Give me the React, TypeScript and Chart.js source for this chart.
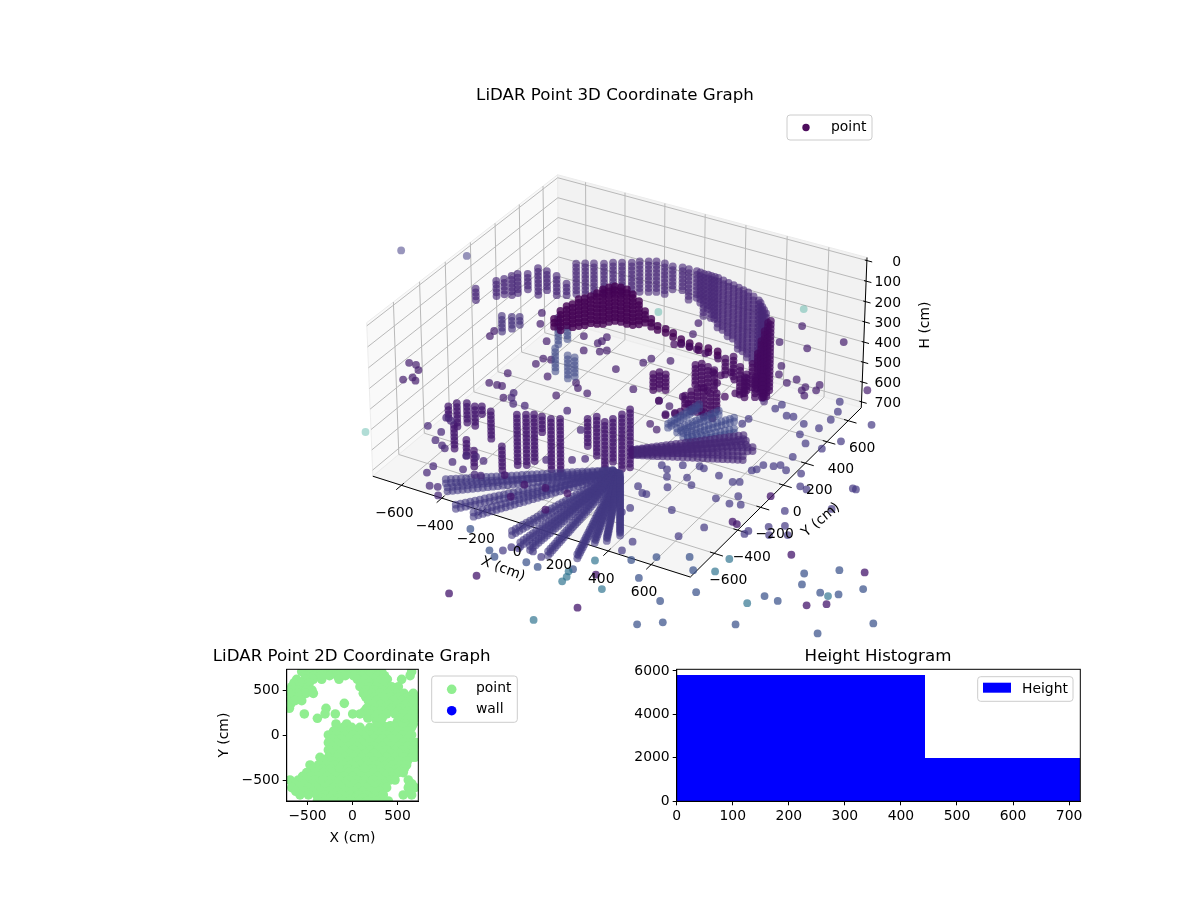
import { useEffect, useRef } from 'react';
import { Chart, registerables } from 'chart.js';

Chart.register(...registerables);

const FONT = '"DejaVu Sans", sans-serif';

// 3D axes
const xLim = [-743, 781];
const yLim = [-800, 725];
const hLim = [-15, 730];
const xTicks3d = [-600, -400, -200, 0, 200, 400, 600];
const yTicks3d = [-600, -400, -200, 0, 200, 400, 600];
const hTicks3d = [0, 100, 200, 300, 400, 500, 600, 700];

// height steps of the laser rings (cm)
const wallHeights = [200, 219, 238, 257, 276, 295, 314, 333, 352, 371, 390, 409, 428, 447, 466, 485, 504, 523, 542, 561, 580, 599, 618, 637];
const frontHeights = [400, 419, 438, 457, 476, 495, 514, 533, 552, 571, 590, 609, 628, 647, 666, 685];

// curved wall at the back
const wallX = [-450, -418, -387, -351, -323, -291, -256, -233, -201, -173, -135, -95, -56, -26, 10, 47, 81, 113, 169, 225, 277, 345, 420, 28, 64, 97, 141, 197, 251, 311, 360, 382, 400];
const wallY = [412, 431, 449, 469, 495, 513, 533, 558, 576, 592, 594, 589, 602, 601, 603, 596, 597, 597, 581, 566, 550, 513, 434, 602, 600, 597, 589, 574, 558, 532, 500, 474, 455];
const wallN = [9, 9, 9, 9, 9, 9, 9, 9, 9, 9, 9, 7, 7, 9, 8, 12, 12, 14, 15, 17, 18, 18, 24, 9, 10, 12, 14, 15, 17, 18, 22, 22, 24];
const wallLeftX = [-657, -637, -624, -612, -576, -565, -521, -465, -397, -695];
const wallLeftY = [124, 153, 190, 217, 237, 300, 297, 281, 246, 27];
const wallLeftN = [5, 5, 6, 6, 5, 8, 6, 6, 4, 4];

// columns in the foreground
const frontX = [-200, -169, -142, -107, -68, -37, 56, 79, 126, 142, 156, 164];
const frontY = [-468, -450, -434, -432, -429, -411, -357, -326, -344, -308, -262, -212];
const frontN = [14, 14, 13, 5, 14, 15, 8, 11, 13, 12, 15, 16];
const clusterX = [-466, -450, -416, -376, -352, -301, -371, -270, -203, -126];
const clusterY = [-549, -512, -492, -497, -483, -499, -658, -728, -780, -700];
const clusterN = [4, 7, 6, 6, 3, 8, 7, 5, 5, 7];

// bluish columns under the dense patch
const paleX = [-454, -380, -336, -263, -231];
const paleY = [271, 221, 51, 27, 28];
const paleN = [8, 4, 7, 7, 6];

// dense dark patch and the trail leaving it
const denseX = [-292, -303, -302, -290, -289, -272, -259, -250, -245, -232, -215, -190, -161, -120, -70, -9, 44, 94, 133, 175, 226, 271, 314, 354, 398];
const denseY = [-28, 40, 87, 113, 160, 179, 205, 239, 279, 305, 324, 329, 327, 304, 267, 209, 166, 129, 125, 111, 85, 73, 70, 75, 71];
const denseN = [3, 6, 6, 7, 8, 8, 8, 9, 10, 10, 10, 10, 10, 9, 7, 4, 3, 2, 2, 2, 2, 2, 2, 2, 2];

// dark clumps in the middle and on the right
const clumpX = [266, 279, 308, 373, 390, 423, 456, 452, 457, 466, 487, 528, 549, 451, 471, 581, 562, 542, 508, 482, 463, 465, 532, 586, 621, 645];
const clumpY = [-209, -183, -185, -64, -44, -53, -62, -289, -249, -216, -203, -225, -213, 37, 67, -28, 55, 137, 229, 306, 370, 390, 9, -53, -32, -18];
const clumpN = [5, 5, 5, 6, 7, 7, 6, 4, 6, 7, 8, 6, 5, 5, 6, 5, 7, 10, 14, 18, 20, 19, 8, 6, 6, 6];
const chainX = [222, 246, 282, 319, 363, 426, 460, 497, 520, 558, 512, 588, 611, 636, 448, 494, 495, 565, 624, 458, 481, 383];
const chainY = [36, 50, 51, 45, 34, 23, -78, -85, -44, -87, -142, -219, -177, -163, -300, -339, -403, -362, -384, -453, -420, -372];
const shortX = [-485, -446, -419];
const shortY = [-112, -99, -83];
const shortN = [5, 4, 3];

// floor fans, polar readings around the two scan centres
const fanRanges = [30, 50, 70, 90, 110, 130, 150, 170, 190, 210, 230, 250, 270, 290, 310, 330, 350, 370, 390, 410, 430, 450, 470, 490, 510, 530, 550, 570, 590, 610, 630, 650, 670, 690];
const fanHeights = [700, 680];
const frontFanCentre = [142, -252];
const frontFanAngles = [-144, -139, -128, -121, -103, -96, -92, -85, -75, -71, -66, -60];
const frontFanN = [34, 34, 34, 32, 30, 32, 32, 32, 31, 25, 24, 22];
const sideFanCentre = [88, -119];
const streakAngles = [33, 25, 39, 44];
const streakN = [25, 23, 24, 24];
const bundleAngles = [51, 60, 69, 80];
const bundleN = [23, 25, 24, 23];

// single returns, floor level
const farX = [809, 721, 723, 799, 1039, 1044, 1102, 1279, 1478, 1329, 575, 1214, 1343, 1129, 1102, 1207, 671, 727, 562, 489, -14, 26, 151, 205, 329, -157];
const farY = [-836, -955, -1132, -1073, -950, -731, -735, -582, -689, -850, -860, -606, -504, -591, -521, -434, -638, -711, -702, -768, -981, -1009, -981, -987, -933, -890];
const cyanX = [1010, 1250, 376, 492, 809, 803, 336, 335, 322, 371];
const cyanY = [-805, -612, -1299, -995, -575, -677, -1025, -990, -954, -840];
const darkX = [1209, 1270, 10, 476, 1297, 1000, 423, 36, 717, 695, 736, -143, -59, 36, 23, -144, -248];
const darkY = [-707, -663, -1307, -1148, -400, -431, -922, -1154, -345, -339, -102, -512, -491, -482, -627, -613, -490];
const midX = [564, 430, 776, 779, 862, 833, 924, 884, 619, 31, 47, 75, 134, 181, 425, 834, 985, 622, 664, 558, 626, 450, 289, 307, 289, 302, 250, 354, 428, 386, 488, 254, 287, 314, 326, 388, 410, 557, 581, 803, 835, 989, 1003, 762, 675, 699, 662, 642, 603, 595, 582, 788, 747, 672, 620, 665, 676, 596, 534, 506, 643, 672, 837, 440, 449, 384, 380];
const midY = [-533, -655, -392, -366, -352, -301, -316, -263, -429, -956, -920, -913, -904, -921, -728, -169, -65, -230, -215, -223, -165, -383, -333, -332, -493, -451, -298, -247, -186, -146, -70, -115, -132, -180, -73, -47, -52, -84, -70, 20, 12, 110, 109, 106, 201, 98, 121, 100, 87, 46, 29, 402, 314, 317, 368, 448, 531, 448, 476, 470, 676, 602, 578, 496, 537, 371, 324];
const leftX = [-627, -583, -561, -479, -457, -419, -376, -528, -524, -413, -352, -327, -462, -430, -395, -713, -641, -683, -654, -34, -75, -164, -162, -286, -456, -549, -536, -505];
const leftY = [-404, -424, -438, -510, -443, -430, -442, -575, -628, -536, -547, -541, -705, -696, -748, -326, -339, -235, -246, -226, -259, -311, -44, 58, 5, 70, 32, -5];

// single returns, upper level
const upperX = [592, 793, 691, 574, 223, 247, 667, 689, 746, 767, 822, 849, 823, 870, 863, 1041, 273, 200, 188, -604, -572, -542, -554, -531, -508, -228, -252, -217, -196, -145, -171, -167, -136, -81, 22, 120, 255, -119, -3, 17, -62, -43, -37, -36, 39, 66, 117, -359, -319, -226, -441, -448, 439, 481, 384, 454, 485, 438];
const upperY = [416, 385, 269, 258, 231, 143, 97, 35, -7, 34, -29, -59, 0, -1, 42, 98, -85, -108, -151, -609, -609, -638, -729, -697, -712, -485, -583, -582, -579, -652, -368, -319, -311, -429, -536, -247, -346, -87, -161, -140, -185, -108, -86, -49, -415, -446, -462, -11, -89, -195, -273, -230, -538, -562, -372, -446, -428, -387];
const faintX = [-1133, -873];
const faintY = [148, 243];
const tealX = [-905, 41, 534];
const tealY = [-492, 229, 541];
const tealH = [700, 200, 200];

// 2D chart
const limit2d = 731;
const ticks2d = [-500, 0, 500];
const greenRowY = [705, 660, 620, 580, 538, 500, 464, 425, 383, 353, 340, 298, 265, 235, 190, 187, 150, 124, 105, 87, 45, 2, -40, -83, -124, -165, -205, -246, -288, -331, -373, -416, -457, -498, -540, -583, -623, -664, -700, -731];
const greenRowX = [
  [-564, -472, -390, -302, -213, -124, -35, 54, 142, 231, 324, 657],
  [-520, -430, -345, -255, -170, -80, 10, 100, 185, 278, 355, 640],
  [-620, -527, -435, -342, -150, 54, 139, 231, 324, 387, 546],
  [-650, -560, -480, 100, 185, 278, 355],
  [-675, -583, -490, 83, 176, 268, 361, 435, 509],
  [-690, -610, -520, -450, 146, 240, 333, 425],
  [-701, -612, -516, -435, 120, 213, 305, 398, 490, 572, 675],
  [-670, -600, 146, 240, 333, 425, 520, 620, 700],
  [-723, -638, -564, 176, 268, 361, 453, 546, 638, 712],
  [-91],
  [-690, 220, 315, 407, 500, 590, 680],
  [-701, -294, 157, 250, 342, 435, 527, 620, 712],
  [130, 185, 240, 330, 420, 510, 610, 690],
  [-535, -305, -191, 2, 83, 194, 287, 380, 472, 564, 657, 712],
  [170, 250, 330, 527, 620, 700],
  [-390],
  [270, 500],
  [-183, -65, 490, 583, 675],
  [280, 340, 420, 500, 530, 620],
  [-102, -9, 83, 194, 287, 379, 472, 564, 657],
  [-210, -130, -55, 38, 148, 240, 333, 425, 518, 610],
  [-268, -176, -83, 9, 102, 194, 287, 379, 472, 564, 657],
  [-222, -130, -37, 55, 148, 240, 333, 425, 518, 610],
  [-268, -176, -83, 9, 102, 194, 287, 379, 472, 564, 657, 712],
  [-222, -130, -37, 55, 148, 240, 333, 425, 518, 610, 690],
  [-268, -176, -83, 9, 102, 194, 287, 379, 472, 564, 657, 712],
  [-222, -130, -37, 55, 148, 240, 333, 425, 518, 610, 670],
  [-361, -268, -176, -83, 9, 102, 194, 287, 379, 472, 564, 657, 694],
  [-315, -222, -130, -37, 55, 148, 240, 333, 425, 518, 610],
  [-472, -379, -287, -194, -102, -9, 83, 176, 268, 361, 453, 546, 601],
  [-440, -333, -240, -148, -55, 37, 130, 222, 315, 407, 500, 575],
  [-509, -416, -324, -231, -139, -46, 46, 139, 231, 324, 416, 509, 564],
  [-555, -462, -370, -278, -185, -93, 0, 93, 185, 278, 370, 444],
  [-694, -601, -509, -416, -324, -231, -139, -46, 46, 139, 231, 324, 416, 472, 620],
  [-640, -540, -444, -352, -259, -167, -74, 19, 111, 204, 296, 360, 660],
  [-675, -583, -490, -398, -305, -213, -120, -28, 65, 157, 250, 342, 379, 620, 694],
  [-630, -536, -444, -352, -259, -167, -74, 19, 111, 204, 296, 640],
  [-583, -490, -398, -305, -213, -120, -28, 65, 157, 250, 342, 564, 657],
  [-340, -250, -160, -66, 25, 118, 215, 330],
  [-390, -298, -205, -113, -20, 72, 165, 268, 398],
];

// histogram
const histEdges = [0, 443, 720];
const histCounts = [5815, 1995];
const histXTicks = [0, 100, 200, 300, 400, 500, 600, 700];
const histYTicks = [0, 2000, 4000, 6000];

// mplot3d style view: elev 30, azim -60, flattened height box
const DIST = 10;
const H_BOX = 0.48;
const UX = 0.866;
const UY = 0.5;
const VX = -0.25;
const VY = 0.433;
const VZ = 0.866;
const NX = 0.433;
const NY = -0.75;
const NZ = 0.5;

type Pt = { x: number; y: number };

function project(x: number, y: number, h: number): Pt {
  const qx = (x - xLim[0]) / (xLim[1] - xLim[0]) - 0.5;
  const qy = (y - yLim[0]) / (yLim[1] - yLim[0]) - 0.5;
  const qz = H_BOX * (0.5 - (h - hLim[0]) / (hLim[1] - hLim[0]));
  const w = DIST - (NX * qx + NY * qy + NZ * qz);
  return { x: (UX * qx + UY * qy) / w, y: (VX * qx + VY * qy + VZ * qz) / w };
}

// readings were taken against a +-720 box, this brings them on the tick scale
const readX = (x: number) => x * 1.058 + 19;
const readY = (y: number) => y * 1.059 - 37;
const reading = (x: number, y: number, h: number) => project(readX(x), readY(y), h);

const stacks = (xs: number[], ys: number[], ns: number[], hs: number[]) =>
  xs.flatMap((x, i) => hs.slice(0, ns[i]).map((h) => reading(x, ys[i], h)));

const singles = (xs: number[], ys: number[], h: number | number[]) =>
  xs.map((x, i) => reading(x, ys[i], Array.isArray(h) ? h[i] : h));

const fan = (centre: number[], angles: number[], ns: number[], first = 0) =>
  angles.flatMap((deg, i) =>
    fanRanges.slice(first, ns[i]).flatMap((r) =>
      fanHeights.map((h) => {
        const t = (deg * Math.PI) / 180;
        return reading(centre[0] + r * Math.cos(t), centre[1] + r * Math.sin(t), h);
      }),
    ),
  );

const gap = { x: NaN, y: NaN };
const segments = (list: [Pt, Pt][]) => list.flatMap(([a, b]) => [a, b, gap]);

const [x0, x1] = xLim;
const [y0, y1] = yLim;
const [hTop, hBottom] = hLim;

const lineSet = (data: Pt[], color: string, width: number) => ({
  data,
  showLine: true,
  borderColor: color,
  borderWidth: width,
  pointRadius: 0,
  spanGaps: false,
  clip: false as const,
});

const paneSet = (corners: Pt[], fill: string) => ({
  data: [...corners, corners[0]],
  showLine: true,
  fill: 'shape',
  backgroundColor: fill,
  borderColor: 'rgb(236,236,236)',
  borderWidth: 1,
  pointRadius: 0,
  clip: false as const,
});

const dots = (data: Pt[], color: string) => ({
  data,
  showLine: false,
  pointRadius: 3.9,
  pointBorderWidth: 0,
  pointBackgroundColor: color,
  clip: false as const,
});

function drawLegend(
  c: CanvasRenderingContext2D,
  box: [number, number, number, number],
  entries: { label: string; tx: number; ty: number; draw: () => void }[],
) {
  c.save();
  c.beginPath();
  c.roundRect(box[0], box[1], box[2], box[3], 3);
  c.fillStyle = 'rgba(255,255,255,0.8)';
  c.fill();
  c.strokeStyle = '#cccccc';
  c.lineWidth = 1;
  c.stroke();
  c.font = `13.9px ${FONT}`;
  c.textAlign = 'left';
  c.textBaseline = 'middle';
  entries.forEach((e) => {
    e.draw();
    c.fillStyle = '#000';
    c.fillText(e.label, e.tx, e.ty);
  });
  c.restore();
}

const disc = (c: CanvasRenderingContext2D, x: number, y: number, r: number, color: string) => {
  c.beginPath();
  c.arc(x, y, r, 0, Math.PI * 2);
  c.fillStyle = color;
  c.fill();
};

const drawTitle = (c: CanvasRenderingContext2D, text: string, x: number, y: number) => {
  c.save();
  c.font = `16.67px ${FONT}`;
  c.fillStyle = '#000';
  c.textAlign = 'center';
  c.textBaseline = 'middle';
  c.fillText(text, x, y);
  c.restore();
};

const drawRotated = (c: CanvasRenderingContext2D, text: string, x: number, y: number, deg: number) => {
  c.save();
  c.translate(x, y);
  c.rotate((deg * Math.PI) / 180);
  c.font = `13.9px ${FONT}`;
  c.fillStyle = '#000';
  c.textAlign = 'center';
  c.textBaseline = 'middle';
  c.fillText(text, 0, 0);
  c.restore();
};

const minus = (v: number | string) => String(v).replace('-', '\u2212');

const spines = (chart: Chart) => {
  const { ctx, chartArea: a } = chart;
  ctx.save();
  ctx.strokeStyle = '#000';
  ctx.lineWidth = 1;
  ctx.strokeRect(a.left, a.top, a.right - a.left, a.bottom - a.top);
  ctx.restore();
};

const axisStyle = (ticks: number[]) => ({
  afterBuildTicks: (axis: any) => {
    axis.ticks = ticks.map((value) => ({ value }));
  },
  grid: { drawOnChartArea: false, drawTicks: true, tickLength: 4, tickColor: '#000', tickWidth: 1 },
  border: { display: true, color: '#000', width: 1 },
  ticks: {
    color: '#000',
    padding: 3,
    autoSkip: false,
    maxRotation: 0,
    font: { family: FONT, size: 13.9 },
    callback: (v: number | string) => minus(v),
  },
});

export default function App() {
  const canvas3d = useRef<HTMLCanvasElement>(null);
  const canvas2d = useRef<HTMLCanvasElement>(null);
  const canvasHist = useRef<HTMLCanvasElement>(null);

  useEffect(() => {
    if (!canvas3d.current || !canvas2d.current || !canvasHist.current) return;

    const gridLines: [Pt, Pt][] = [
      ...xTicks3d.flatMap((x): [Pt, Pt][] => [
        [project(x, y0, hBottom), project(x, y1, hBottom)],
        [project(x, y1, hBottom), project(x, y1, hTop)],
      ]),
      ...yTicks3d.flatMap((y): [Pt, Pt][] => [
        [project(x0, y, hBottom), project(x1, y, hBottom)],
        [project(x0, y, hBottom), project(x0, y, hTop)],
      ]),
      ...hTicks3d.flatMap((h): [Pt, Pt][] => [
        [project(x0, y0, h), project(x0, y1, h)],
        [project(x0, y1, h), project(x1, y1, h)],
      ]),
    ];
    const axisLines: [Pt, Pt][] = [
      [project(x0, y0, hBottom), project(x1, y0, hBottom)],
      [project(x1, y0, hBottom), project(x1, y1, hBottom)],
      [project(x1, y1, hBottom), project(x1, y1, hTop)],
    ];
    const tickMarks: [Pt, Pt][] = [
      ...xTicks3d.map((x): [Pt, Pt] => [project(x, y0 - 40, hBottom), project(x, y0 + 20, hBottom)]),
      ...yTicks3d.map((y): [Pt, Pt] => [project(x1 - 20, y, hBottom), project(x1 + 40, y, hBottom)]),
      ...hTicks3d.map((h): [Pt, Pt] => [project(x1 - 10, y1, h), project(x1 + 25, y1, h)]),
    ];

    // chart.js paints the first dataset last, so the list runs from back to front and is flipped
    const layers3d = [
      paneSet([project(x0, y0, hBottom), project(x0, y1, hBottom), project(x0, y1, hTop), project(x0, y0, hTop)], 'rgb(249,249,249)'),
      paneSet([project(x0, y1, hBottom), project(x1, y1, hBottom), project(x1, y1, hTop), project(x0, y1, hTop)], 'rgb(242,242,242)'),
      paneSet([project(x0, y0, hBottom), project(x1, y0, hBottom), project(x1, y1, hBottom), project(x0, y1, hBottom)], 'rgb(245,245,245)'),
      lineSet(segments(gridLines), '#b9b9b9', 1),
      lineSet(segments(axisLines), '#000', 1),
      lineSet(segments(tickMarks), '#000', 1),
      dots(singles(tealX, tealY, tealH), 'rgba(31,158,137,0.35)'),
      dots(singles(faintX, faintY, 200), 'rgba(67,62,133,0.55)'),
      dots(stacks(wallX, wallY, wallN, wallHeights), 'rgba(72,40,120,0.62)'),
      dots(stacks(wallLeftX, wallLeftY, wallLeftN, wallHeights), 'rgba(72,40,120,0.65)'),
      dots(singles(upperX, upperY, 200), 'rgba(70,30,110,0.7)'),
      dots(stacks(paleX, paleY, paleN, frontHeights), 'rgba(70,80,140,0.6)'),
      dots(stacks(shortX, shortY, shortN, wallHeights), 'rgba(70,50,125,0.65)'),
      dots(stacks(denseX, denseY, denseN, wallHeights), 'rgba(68,1,84,0.8)'),
      dots(stacks(clumpX, clumpY, clumpN, wallHeights), 'rgba(68,10,95,0.72)'),
      dots(singles(chainX, chainY, 200), 'rgba(68,10,95,0.72)'),
      dots(fan(sideFanCentre, bundleAngles, bundleN, 12), 'rgba(64,72,138,0.55)'),
      dots(fan(sideFanCentre, streakAngles, streakN), 'rgba(70,40,118,0.65)'),
      dots(stacks(clusterX, clusterY, clusterN, frontHeights), 'rgba(68,22,110,0.72)'),
      dots(stacks(frontX, frontY, frontN, frontHeights), 'rgba(68,22,110,0.72)'),
      dots(fan(frontFanCentre, frontFanAngles, frontFanN), 'rgba(66,56,130,0.6)'),
      dots(singles(leftX, leftY, 700), 'rgba(72,40,120,0.72)'),
      dots(singles(midX, midY, 700), 'rgba(68,57,131,0.7)'),
      dots(singles(farX, farY, 700), 'rgba(58,82,139,0.72)'),
      dots(singles(cyanX, cyanY, 700), 'rgba(44,114,142,0.68)'),
      dots(singles(darkX, darkY, 700), 'rgba(68,22,108,0.75)'),
    ];

    const chart3d = new Chart(canvas3d.current, {
      type: 'scatter',
      data: { datasets: layers3d.reverse() as any },
      options: {
        animation: false,
        responsive: false,
        devicePixelRatio: 1,
        layout: { padding: 0 },
        plugins: { legend: { display: false }, tooltip: { enabled: false } },
        scales: {
          x: { type: 'linear', display: false, min: -621 / 3642, max: (1200 - 621) / 3642 },
          y: { type: 'linear', display: false, min: (367 - 640) / 3700, max: 367 / 3700 },
        },
      },
      plugins: [
        {
          id: 'labels3d',
          afterDraw(chart) {
            const { ctx: c, scales } = chart;
            const px = (p: Pt) => [scales.x.getPixelForValue(p.x), scales.y.getPixelForValue(p.y)];
            drawTitle(c, 'LiDAR Point 3D Coordinate Graph', 615, 95.5);
            xTicks3d.forEach((x) => {
              const [sx, sy] = px(project(x, y0, hBottom));
              drawRotated(c, minus(x), sx - 7, sy + 28, 0);
            });
            yTicks3d.forEach((y) => {
              const [sx, sy] = px(project(x1, y, hBottom));
              drawRotated(c, minus(y), sx + 14, sy + 27.5, 0);
            });
            c.save();
            c.font = `13.9px ${FONT}`;
            c.fillStyle = '#000';
            c.textAlign = 'right';
            c.textBaseline = 'middle';
            hTicks3d.forEach((h) => {
              const [, sy] = px(project(x1, y1, h));
              c.fillText(String(h), 901, sy + 1.5);
            });
            c.restore();
            drawRotated(c, 'X (cm)', 503, 569, 21);
            drawRotated(c, 'Y (cm)', 821, 520, -40);
            drawRotated(c, 'H (cm)', 925, 325, -90);
            drawLegend(c, [787, 115, 85, 25], [
              { label: 'point', tx: 831, ty: 127, draw: () => disc(c, 806, 127.5, 3.7, 'rgba(68,1,84,0.95)') },
            ]);
          },
        },
      ],
    });

    const greenPoints = greenRowY.flatMap((y, i) => greenRowX[i].map((x) => ({ x, y })));
    const chart2d = new Chart(canvas2d.current, {
      type: 'scatter',
      data: {
        datasets: [
          { label: 'point', data: greenPoints, pointRadius: 4.8, pointBorderWidth: 0, pointBackgroundColor: '#90ee90', clip: 0 },
          { label: 'wall', data: [], pointRadius: 4.8, pointBackgroundColor: '#0000ff', clip: 0 },
        ] as any,
      },
      options: {
        animation: false,
        responsive: false,
        devicePixelRatio: 1,
        layout: { padding: { left: 14, top: 29.3, right: 111.7, bottom: 0 } },
        plugins: { legend: { display: false }, tooltip: { enabled: false } },
        scales: {
          x: {
            type: 'linear',
            min: -limit2d,
            max: limit2d,
            ...axisStyle(ticks2d),
            afterFit: (axis: any) => {
              axis.height = 49;
            },
            title: { display: true, text: 'X (cm)', color: '#000', font: { family: FONT, size: 13.9 }, padding: { top: 2, bottom: 3 } },
          } as any,
          y: {
            type: 'linear',
            min: -limit2d,
            max: limit2d,
            ...axisStyle(ticks2d),
            afterFit: (axis: any) => {
              axis.width = 72.7;
            },
            title: { display: true, text: 'Y (cm)', color: '#000', font: { family: FONT, size: 13.9 }, padding: { top: 2, bottom: 2 } },
          } as any,
        },
      },
      plugins: [
        {
          id: 'frame2d',
          afterDraw(chart) {
            const c = chart.ctx;
            spines(chart);
            drawTitle(c, 'LiDAR Point 2D Coordinate Graph', 151.7, 16.2);
            drawLegend(c, [231.7, 36, 85.6, 46.3], [
              { label: 'point', tx: 276, ty: 48.5, draw: () => disc(c, 251.7, 49.3, 4.8, '#90ee90') },
              { label: 'wall', tx: 276, ty: 69, draw: () => disc(c, 251.7, 70.7, 4.8, '#0000ff') },
            ]);
          },
        },
      ],
    });

    const histPoints = histEdges.map((x, i) => ({ x, y: histCounts[Math.min(i, histCounts.length - 1)] }));
    const chartHist = new Chart(canvasHist.current, {
      type: 'line',
      data: {
        datasets: [
          {
            label: 'Height',
            data: histPoints,
            stepped: 'before',
            fill: 'origin',
            backgroundColor: '#0000ff',
            borderWidth: 0,
            pointRadius: 0,
            clip: 0,
          },
        ] as any,
      },
      options: {
        animation: false,
        responsive: false,
        devicePixelRatio: 1,
        layout: { padding: { left: 0, top: 29.3, right: 19.7, bottom: 0 } },
        plugins: { legend: { display: false }, tooltip: { enabled: false } },
        scales: {
          x: {
            type: 'linear',
            min: 0,
            max: 720,
            ...axisStyle(histXTicks),
            afterFit: (axis: any) => {
              axis.height = 28.7;
            },
          } as any,
          y: {
            type: 'linear',
            min: 0,
            max: 6078,
            ...axisStyle(histYTicks),
            afterFit: (axis: any) => {
              axis.width = 56.7;
            },
          } as any,
        },
      },
      plugins: [
        {
          id: 'frameHist',
          afterDraw(chart) {
            const c = chart.ctx;
            spines(chart);
            drawTitle(c, 'Height Histogram', 258, 16.2);
            drawLegend(c, [357.7, 36.7, 95.3, 24.6], [
              {
                label: 'Height',
                tx: 402,
                ty: 49,
                draw: () => {
                  c.fillStyle = '#0000ff';
                  c.fillRect(363, 42.7, 28, 10);
                },
              },
            ]);
          },
        },
      ],
    });

    return () => {
      chart3d.destroy();
      chart2d.destroy();
      chartHist.destroy();
    };
  }, []);

  return (
    <div style={{ position: 'absolute', left: 0, top: 0, width: 1200, height: 900, background: '#fff', overflow: 'hidden' }}>
      <canvas ref={canvas3d} width={1200} height={640} style={{ position: 'absolute', left: 0, top: 0 }} />
      <canvas ref={canvas2d} width={330} height={210} style={{ position: 'absolute', left: 200, top: 640 }} />
      <canvas ref={canvasHist} width={480} height={190} style={{ position: 'absolute', left: 620, top: 640 }} />
    </div>
  );
}
